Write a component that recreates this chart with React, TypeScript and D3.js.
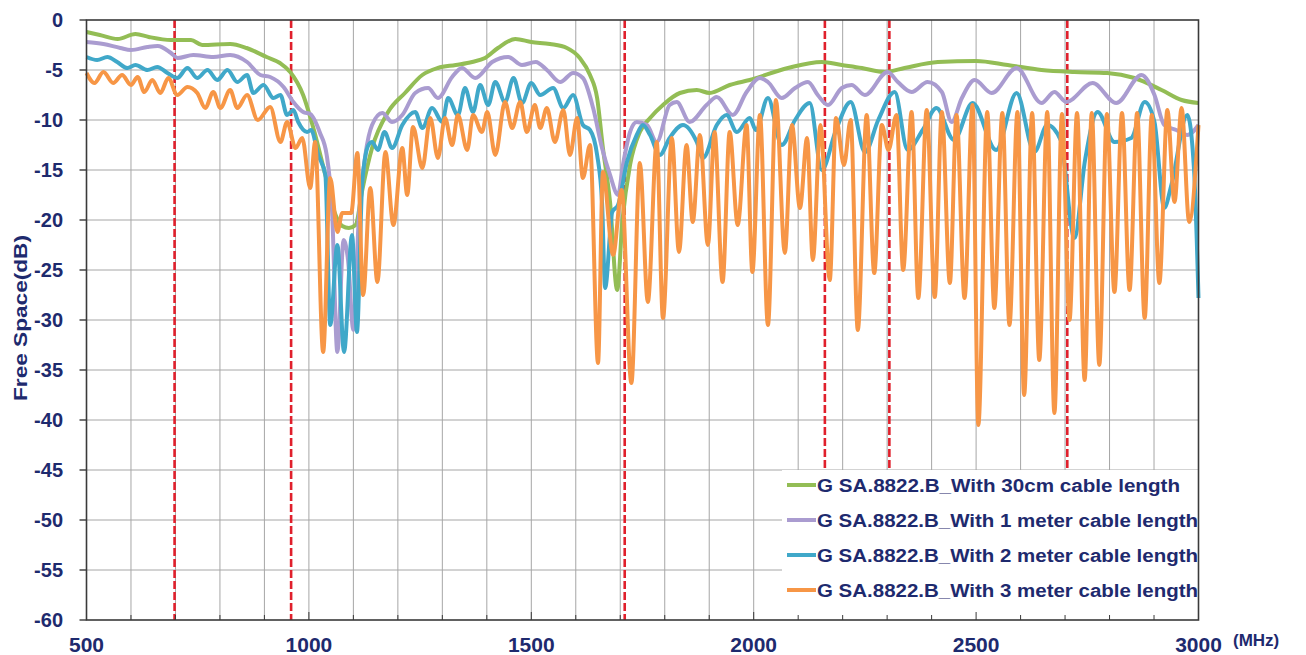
import { useEffect, useRef } from 'react';
import * as d3 from 'd3';

const WIDTH = 1306;
const HEIGHT = 655;
const PLOT = { left: 86.5, right: 1198.5, top: 20, bottom: 620 };
const NAVY = '#1E2A6E';

const xLabelTicks = [500, 1000, 1500, 2000, 2500, 3000];
const yLabelTicks = [0, -5, -10, -15, -20, -25, -30, -35, -40, -45, -50, -55, -60];
const markerFreqs = [698, 960, 1710, 2160, 2305, 2705];

const seriesNames = [
  'G SA.8822.B_With 30cm cable length',
  'G SA.8822.B_With 1 meter cable length',
  'G SA.8822.B_With 2 meter cable length',
  'G SA.8822.B_With 3 meter cable length',
];
const seriesColors = ['#93BD55', '#AA9CD0', '#40A8C9', '#F79646'];

// [MHz, dB]
const cable30cm: [number, number][] = [
  [500, -1.2], [530, -1.5], [570, -1.9], [610, -1.4], [640, -1.7], [690, -2.0], [735, -2.0], [760, -2.5],
  [823, -2.4], [860, -2.8], [905, -3.7], [935, -4.3], [958, -5.2], [987, -7.5], [1010, -10.8], [1037, -15.5],
  [1060, -19.5], [1075, -20.6], [1090, -20.8], [1105, -20.5], [1120, -17], [1142, -12.8], [1178, -9.2],
  [1216, -7.3], [1255, -5.5], [1290, -4.8], [1330, -4.5], [1367, -4.2], [1396, -3.8], [1425, -2.8],
  [1464, -1.9], [1500, -2.2], [1542, -2.4], [1580, -2.8], [1609, -3.8], [1632, -5.5], [1648, -7.8],
  [1661, -12.8], [1677, -18.2], [1693, -27], [1705, -20], [1722, -14.5], [1744, -11.2], [1767, -9.8],
  [1796, -8.5], [1834, -7.3], [1872, -7.0], [1901, -7.3], [1946, -6.5], [1991, -6.0], [2077, -4.8],
  [2153, -4.2], [2198, -4.5], [2243, -4.8], [2295, -5.2], [2339, -4.8], [2414, -4.2], [2500, -4.1],
  [2571, -4.5], [2647, -5.0], [2721, -5.2], [2795, -5.3], [2856, -5.8], [2917, -7.0], [2962, -8.0], [3000, -8.3],
];

const cable1m: [number, number][] = [
  [500, -2.2], [538, -2.4], [576, -2.8], [600, -3.0], [637, -2.7], [660, -2.6], [690, -3.3], [705, -3.8],
  [740, -3.5], [785, -3.7], [823, -3.5], [861, -4.2], [891, -5.5], [913, -5.7], [943, -6.7], [965, -8.2],
  [987, -9.2], [1003, -9.4], [1025, -11.3], [1040, -13.5], [1052, -19], [1064, -33.2], [1078, -22],
  [1088, -24], [1100, -31], [1112, -20], [1127, -13.5], [1142, -10.5], [1165, -9.3], [1187, -10.2],
  [1210, -9.5], [1239, -7.3], [1268, -6.8], [1290, -7.8], [1322, -5.7], [1344, -4.8], [1374, -5.8],
  [1412, -4.2], [1448, -3.7], [1479, -4.5], [1510, -4.2], [1535, -5.0], [1565, -6.2], [1594, -5.3],
  [1616, -5.8], [1639, -8.8], [1659, -12.8], [1677, -15.5], [1695, -17.5], [1706, -14.5], [1722, -11.2],
  [1737, -10.2], [1760, -10.5], [1782, -12.2], [1811, -8.5], [1827, -8.2], [1856, -10.2], [1894, -8.5],
  [1917, -7.7], [1953, -9.5], [1984, -7.2], [2014, -5.8], [2032, -6.2], [2063, -7.8], [2093, -6.8],
  [2122, -6.2], [2144, -7.5], [2167, -8.5], [2198, -6.8], [2220, -6.5], [2250, -7.5], [2301, -5.2],
  [2324, -6.2], [2355, -7.2], [2391, -6.2], [2423, -7.2], [2445, -10.2], [2468, -7.8], [2497, -6.0],
  [2535, -7.3], [2591, -4.8], [2647, -8.3], [2676, -7.2], [2703, -8.2], [2762, -6.3], [2815, -8.3],
  [2872, -5.5], [2901, -7.5], [2923, -10.5], [2950, -11], [2975, -11.5], [3000, -10.5],
];

const cable2m: [number, number][] = [
  [500, -3.7], [524, -4.0], [547, -3.7], [569, -4.2], [592, -4.8], [610, -4.5], [637, -5.0], [659, -4.7],
  [682, -5.3], [704, -5.8], [727, -4.8], [749, -5.8], [772, -5.0], [794, -6.0], [817, -5.0], [839, -6.2],
  [861, -5.5], [875, -7.3], [898, -6.5], [920, -7.8], [936, -7.5], [951, -9.5], [965, -9.0], [976, -10.2],
  [996, -11.2], [1005, -11], [1021, -13.5], [1037, -15.5], [1048, -30.5], [1064, -22.5], [1079, -33.2],
  [1097, -21.5], [1108, -31.2], [1120, -16.2], [1134, -12.5], [1142, -12.2], [1155, -13], [1170, -11.2],
  [1187, -12.8], [1210, -10.5], [1239, -9.2], [1255, -10.8], [1277, -8.8], [1300, -10.2], [1313, -7.8],
  [1335, -9.5], [1351, -6.8], [1369, -9.2], [1385, -6.5], [1403, -8.5], [1419, -6.2], [1441, -8.2],
  [1460, -5.8], [1479, -8.3], [1500, -6.3], [1520, -7.5], [1549, -6.8], [1572, -8.8], [1594, -7.5],
  [1616, -10.5], [1632, -11.0], [1648, -13.5], [1659, -18.2], [1666, -26.8], [1682, -19.2], [1695, -18.5],
  [1715, -14.2], [1737, -11.5], [1751, -10.5], [1767, -11.5], [1789, -13.5], [1811, -11.8], [1841, -10.5],
  [1872, -12.2], [1886, -13.8], [1917, -10.5], [1939, -9.5], [1962, -11.2], [1991, -9.8], [2005, -11],
  [2032, -7.8], [2063, -12.5], [2093, -10], [2126, -8.3], [2153, -15.0], [2185, -11], [2218, -8.2],
  [2250, -13.2], [2280, -10], [2317, -7.2], [2346, -13], [2380, -11], [2411, -8.8], [2450, -12],
  [2492, -8.3], [2545, -13], [2591, -7.3], [2631, -13.2], [2660, -10.5], [2690, -12], [2721, -21.8],
  [2745, -14], [2773, -9.2], [2811, -12.2], [2849, -11.8], [2879, -8.2], [2901, -10.2], [2923, -18.8],
  [2939, -16.5], [2975, -9.5], [2990, -15], [3000, -27.8],
];

const cable3m: [number, number][] = [
  [500, -5.3], [518, -6.3], [538, -5.2], [560, -6.3], [580, -5.5], [600, -6.5], [615, -5.7], [630, -7.2],
  [648, -6.0], [666, -7.3], [684, -5.8], [704, -7.5], [727, -6.7], [749, -7.3], [767, -8.8], [785, -7.2],
  [801, -8.8], [823, -7.0], [839, -8.8], [861, -7.5], [885, -10.0], [913, -8.7], [936, -12.2], [951, -10.2],
  [970, -12.8], [985, -11.8], [1003, -16.8], [1014, -12.2], [1032, -33.2], [1048, -15.8], [1064, -21.2],
  [1075, -19.3], [1095, -19.3], [1109, -13.3], [1122, -27.5], [1138, -16.8], [1154, -26.2], [1172, -13.2],
  [1190, -20.5], [1210, -12.8], [1221, -17.5], [1234, -10.7], [1255, -14.8], [1273, -9.8], [1290, -13.8],
  [1306, -9.8], [1322, -12.5], [1335, -9.5], [1356, -13.0], [1369, -9.5], [1389, -11.2], [1401, -9.2],
  [1419, -13.5], [1441, -8.2], [1457, -10.8], [1475, -8.2], [1490, -11.2], [1508, -8.5], [1520, -10.8],
  [1535, -8.8], [1553, -12.2], [1572, -9.0], [1587, -13.5], [1603, -9.8], [1616, -15.8], [1632, -12.5],
  [1650, -34.3], [1661, -15.2], [1684, -23.5], [1703, -17], [1725, -36.3], [1744, -14.3], [1762, -28.2],
  [1782, -12.2], [1796, -29.8], [1816, -11.8], [1832, -23.2], [1849, -12.5], [1863, -20.2], [1879, -11.5],
  [1897, -22.5], [1912, -11.2], [1930, -26.2], [1946, -11.2], [1964, -20.5], [1984, -10.5], [1997, -25.2],
  [2014, -9.5], [2032, -30.5], [2050, -8], [2070, -23.3], [2086, -10.5], [2104, -18.8], [2120, -11.8],
  [2133, -24.0], [2150, -10.5], [2171, -26.0], [2185, -9.8], [2203, -14.5], [2218, -10], [2234, -31.0],
  [2254, -9.5], [2271, -25.3], [2288, -10.5], [2303, -13], [2321, -9.5], [2336, -25], [2355, -9.2],
  [2370, -27.8], [2389, -9.0], [2407, -27.7], [2423, -9.2], [2441, -26.3], [2456, -9.5], [2474, -27.8],
  [2492, -8.5], [2505, -40.5], [2525, -9.2], [2541, -28.8], [2559, -9.3], [2575, -30.5], [2593, -9.2],
  [2608, -37.5], [2626, -9.3], [2642, -34], [2660, -9.2], [2676, -39.3], [2693, -9.4], [2710, -30],
  [2727, -9.3], [2744, -36], [2760, -9.3], [2777, -34.5], [2794, -9.4], [2811, -27.2], [2828, -9.3],
  [2845, -27], [2862, -9.3], [2879, -29.8], [2895, -9.5], [2912, -26.3], [2930, -9], [2946, -18.2],
  [2962, -8.8], [2979, -20.2], [3000, -10.5],
];

const allSeries = [cable30cm, cable1m, cable2m, cable3m];

export default function App() {
  const svgRef = useRef<SVGSVGElement>(null);

  useEffect(() => {
    const svg = d3.select(svgRef.current);
    svg.selectAll('*').remove();

    const x = d3.scaleLinear().domain([500, 3000]).range([PLOT.left, PLOT.right]);
    const y = d3.scaleLinear().domain([-60, 0]).range([PLOT.bottom, PLOT.top]);
    const font = 'Arial, "Liberation Sans", sans-serif';

    svg.append('rect').attr('width', WIDTH).attr('height', HEIGHT).attr('fill', '#fff');

    // grid
    const grid = svg.append('g');
    grid
      .selectAll('line.v')
      .data(d3.range(600, 3000, 100))
      .enter()
      .append('line')
      .attr('x1', (d) => x(d))
      .attr('x2', (d) => x(d))
      .attr('y1', PLOT.top)
      .attr('y2', PLOT.bottom)
      .attr('stroke', '#a6a6a6')
      .attr('stroke-width', 1);
    grid
      .selectAll('line.h')
      .data(yLabelTicks.filter((d) => d !== 0 && d !== -60))
      .enter()
      .append('line')
      .attr('x1', PLOT.left)
      .attr('x2', PLOT.right)
      .attr('y1', (d) => y(d))
      .attr('y2', (d) => y(d))
      .attr('stroke', '#a6a6a6')
      .attr('stroke-width', 1);

    // band markers
    svg
      .selectAll('line.marker')
      .data(markerFreqs)
      .enter()
      .append('line')
      .attr('x1', (d) => x(d))
      .attr('x2', (d) => x(d))
      .attr('y1', PLOT.top)
      .attr('y2', PLOT.bottom)
      .attr('stroke', '#E0202C')
      .attr('stroke-width', 2.6)
      .attr('stroke-dasharray', '8,3');

    const line = d3
      .line<[number, number]>()
      .x((d) => x(d[0]))
      .y((d) => y(d[1]))
      .curve(d3.curveMonotoneX);

    allSeries.forEach((s, i) => {
      svg
        .append('path')
        .attr('d', line(s))
        .attr('fill', 'none')
        .attr('stroke', seriesColors[i])
        .attr('stroke-width', 4)
        .attr('stroke-linejoin', 'round');
    });

    // legend
    const legend = svg.append('g');
    legend.append('rect').attr('x', 782).attr('y', 470).attr('width', PLOT.right - 782).attr('height', PLOT.bottom - 470).attr('fill', '#fff');
    const legendLengths = [363, 381, 381, 381];
    seriesNames.forEach((name, i) => {
      const cy = 485 + i * 35;
      legend.append('line').attr('x1', 787).attr('x2', 816).attr('y1', cy).attr('y2', cy)
        .attr('stroke', seriesColors[i]).attr('stroke-width', 4);
      legend.append('text').attr('x', 817).attr('y', cy + 7)
        .attr('font-family', font).attr('font-size', 18).attr('font-weight', 'bold')
        .attr('fill', NAVY)
        .attr('textLength', legendLengths[i]).attr('lengthAdjust', 'spacingAndGlyphs')
        .text(name);
    });

    // frame
    svg.append('rect').attr('x', PLOT.left).attr('y', PLOT.top)
      .attr('width', PLOT.right - PLOT.left).attr('height', PLOT.bottom - PLOT.top)
      .attr('fill', 'none').attr('stroke', '#3a3a3a').attr('stroke-width', 1.6);

    // x ticks (inside)
    svg.selectAll('line.xminor').data(d3.range(600, 3000, 100)).enter().append('line')
      .attr('x1', (d) => x(d)).attr('x2', (d) => x(d))
      .attr('y1', PLOT.bottom).attr('y2', (d) => PLOT.bottom - (d % 500 === 0 ? 8 : 5))
      .attr('stroke', '#3a3a3a').attr('stroke-width', 1);
    // y ticks (outside)
    svg.selectAll('line.ytick').data(yLabelTicks).enter().append('line')
      .attr('x1', PLOT.left - 7).attr('x2', PLOT.left)
      .attr('y1', (d) => y(d)).attr('y2', (d) => y(d))
      .attr('stroke', '#3a3a3a').attr('stroke-width', 1.4);

    svg.selectAll('text.ylab').data(yLabelTicks).enter().append('text')
      .attr('x', 63).attr('y', (d) => y(d) + 7)
      .attr('text-anchor', 'end').attr('font-family', font).attr('font-size', 20)
      .attr('font-weight', 'bold').attr('fill', NAVY)
      .text((d) => String(d));

    svg.selectAll('text.xlab').data(xLabelTicks).enter().append('text')
      .attr('x', (d) => x(d)).attr('y', 652)
      .attr('text-anchor', 'middle').attr('font-family', font).attr('font-size', 21)
      .attr('font-weight', 'bold').attr('fill', NAVY)
      .text((d) => String(d));

    svg.append('text').attr('x', 1233).attr('y', 646)
      .attr('font-family', font).attr('font-size', 17).attr('font-weight', 'bold').attr('fill', NAVY)
      .text('(MHz)');

    svg.append('text')
      .attr('transform', `translate(27,${(PLOT.top + PLOT.bottom) / 2 - 2}) rotate(-90)`)
      .attr('text-anchor', 'middle').attr('font-family', font).attr('font-size', 18)
      .attr('font-weight', 'bold').attr('fill', NAVY)
      .attr('textLength', 166).attr('lengthAdjust', 'spacingAndGlyphs')
      .text('Free Space(dB)');
  }, []);

  return (
    <svg
      ref={svgRef}
      width={WIDTH}
      height={HEIGHT}
      style={{ position: 'absolute', left: 0, top: 0, display: 'block' }}
    />
  );
}
